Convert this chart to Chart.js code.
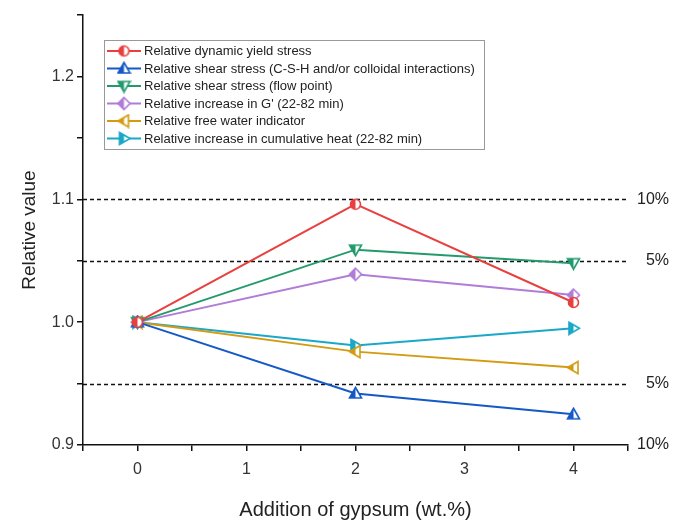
<!DOCTYPE html>
<html>
<head>
<meta charset="utf-8">
<script src="https://cdn.jsdelivr.net/npm/chart.js@4"></script>
<style>
  body { margin: 0; background: #fff; }
  #wrap { width: 678px; height: 530px; }
</style>
</head>
<body>
<div id="wrap"><canvas id="myChart" width="678" height="530"></canvas></div>
<script>
// gypsum addition (wt.%)
const gypsum = [0, 2, 4];

const seriesNames = [
    'Relative dynamic yield stress',
    'Relative shear stress (C-S-H and/or colloidal interactions)',
    'Relative shear stress (flow point)',
    "Relative increase in G' (22-82 min)",
    'Relative free water indicator',
    'Relative increase in cumulative heat (22-82 min)'
];
const dynYield   = [1.000, 1.096, 1.016];
const shearCSH   = [1.000, 0.942, 0.925];
const shearFlow  = [1.000, 1.059, 1.048];
const gPrime     = [1.000, 1.039, 1.022];
const freeWater  = [1.000, 0.976, 0.963];
const cumHeat    = [1.000, 0.981, 0.995];

// dashed deviation lines and their labels on the right
const refLines = [1.1, 1.05, 0.95];
const marginValues = [1.1, 1.05, 0.95, 0.9];
const marginLabels = ['10%', '5%', '5%', '10%'];

const colors = ['#e8403f', '#1559c7', '#229a6c', '#b07cd8', '#d49b12', '#1aa8c8'];
const shapes = ['circle', 'up', 'down', 'diamond', 'left', 'right'];
const values = [dynYield, shearCSH, shearFlow, gPrime, freeWater, cumHeat];

// half filled marker drawn on a small canvas
function makeMarker(shape, color) {
    const s = 15, m = s / 2, r = 5;
    const c = document.createElement('canvas');
    c.width = s; c.height = s;
    const g = c.getContext('2d');
    g.beginPath();
    if (shape === 'circle') {
        g.arc(m, m, r, 0, Math.PI * 2);
    } else if (shape === 'up') {
        g.moveTo(m, m - r - 1); g.lineTo(m + r + 1, m + r - 0.5); g.lineTo(m - r - 1, m + r - 0.5); g.closePath();
    } else if (shape === 'down') {
        g.moveTo(m, m + r + 1); g.lineTo(m + r + 1, m - r + 0.5); g.lineTo(m - r - 1, m - r + 0.5); g.closePath();
    } else if (shape === 'diamond') {
        g.moveTo(m, m - r - 1); g.lineTo(m + r + 1, m); g.lineTo(m, m + r + 1); g.lineTo(m - r - 1, m); g.closePath();
    } else if (shape === 'left') {
        g.moveTo(m - r - 1, m); g.lineTo(m + r - 0.5, m - r - 1); g.lineTo(m + r - 0.5, m + r + 1); g.closePath();
    } else {
        g.moveTo(m + r + 1, m); g.lineTo(m - r + 0.5, m - r - 1); g.lineTo(m - r + 0.5, m + r + 1); g.closePath();
    }
    g.fillStyle = '#fff';
    g.fill();
    g.save();
    g.clip();
    g.fillStyle = color;
    g.fillRect(0, 0, m, s);
    g.restore();
    g.lineWidth = 1.6;
    g.strokeStyle = color;
    g.stroke();
    return c;
}

const markers = shapes.map((sh, i) => makeMarker(sh, colors[i]));

const datasets = values.map((vals, i) => ({
    label: seriesNames[i],
    data: gypsum.map((x, j) => ({ x: x, y: vals[j] })),
    borderColor: colors[i],
    backgroundColor: colors[i],
    borderWidth: 2,
    tension: 0,
    fill: false,
    pointStyle: markers[i],
    pointRadius: 6
}));

const refLinePlugin = {
    id: 'refLines',
    beforeDatasetsDraw(chart) {
        const ctx = chart.ctx, area = chart.chartArea, y = chart.scales.y;
        ctx.save();
        ctx.strokeStyle = '#111';
        ctx.lineWidth = 1.6;
        ctx.setLineDash([4, 3]);
        refLines.forEach(v => {
            const py = Math.round(y.getPixelForValue(v)) + 0.5;
            ctx.beginPath();
            ctx.moveTo(area.left, py);
            ctx.lineTo(area.right, py);
            ctx.stroke();
        });
        ctx.setLineDash([]);
        ctx.fillStyle = '#222';
        ctx.font = '16px "Liberation Sans", Arial, sans-serif';
        ctx.textAlign = 'right';
        ctx.textBaseline = 'middle';
        marginValues.forEach((v, i) => {
            ctx.fillText(marginLabels[i], 669, y.getPixelForValue(v));
        });
        ctx.restore();
    }
};

const legendPlugin = {
    id: 'boxLegend',
    afterDatasetsDraw(chart) {
        const ctx = chart.ctx;
        const bx = 104, by = 40, bw = 380, bh = 109;
        ctx.save();
        ctx.fillStyle = '#fff';
        ctx.fillRect(bx, by, bw, bh);
        ctx.strokeStyle = '#999';
        ctx.lineWidth = 1;
        ctx.strokeRect(bx + 0.5, by + 0.5, bw, bh);
        ctx.font = '13px "Liberation Sans", Arial, sans-serif';
        ctx.textBaseline = 'middle';
        ctx.textAlign = 'left';
        seriesNames.forEach((name, i) => {
            const ry = by + 11 + i * 17.5;
            ctx.strokeStyle = colors[i];
            ctx.lineWidth = 2;
            ctx.beginPath();
            ctx.moveTo(bx + 3, ry);
            ctx.lineTo(bx + 37, ry);
            ctx.stroke();
            const mk = markers[i];
            ctx.drawImage(mk, bx + 20 - mk.width / 2, ry - mk.height / 2);
            ctx.fillStyle = '#222';
            ctx.fillText(name, bx + 40, ry + 0.5);
        });
        ctx.restore();
    }
};

const axisFont = { family: '"Liberation Sans", Arial, sans-serif', size: 16 };
const titleFont = { family: '"Liberation Sans", Arial, sans-serif', size: 20 };

let myChart = document.getElementById('myChart').getContext('2d');
let lineChart = new Chart(myChart, {
    type: 'line',
    data: { datasets: datasets },
    plugins: [refLinePlugin, legendPlugin],
    options: {
        responsive: false,
        animation: false,
        layout: { padding: { left: 0, right: 50, top: 15, bottom: 0 } },
        plugins: {
            legend: { display: false },
            tooltip: { enabled: false }
        },
        scales: {
            x: {
                type: 'linear',
                min: -0.5,
                max: 4.5,
                afterBuildTicks: (scale) => {
                    const t = [];
                    for (let k = -1; k <= 9; k++) t.push({ value: k / 2 });
                    scale.ticks = t;
                },
                afterFit: (scale) => { scale.height = 85; },
                ticks: {
                    autoSkip: false,
                    maxRotation: 0,
                    padding: 9,
                    color: '#333',
                    font: axisFont,
                    callback: (v) => (Number.isInteger(v) && v >= 0 ? String(v) : '')
                },
                grid: { drawOnChartArea: false, drawTicks: true, tickLength: 6, color: '#111', lineWidth: 1.5 },
                border: { color: '#111', width: 1.5 },
                title: { display: true, text: 'Addition of gypsum (wt.%)', color: '#222', font: titleFont, padding: { top: 0, bottom: 8 } }
            },
            y: {
                type: 'linear',
                min: 0.9,
                max: 1.25,
                afterBuildTicks: (scale) => {
                    const t = [];
                    for (let k = 18; k <= 25; k++) t.push({ value: k / 20 });
                    scale.ticks = t;
                },
                afterFit: (scale) => { scale.width = 83; },
                ticks: {
                    autoSkip: false,
                    padding: 3,
                    color: '#333',
                    font: axisFont,
                    callback: (v) => {
                        const n = Math.round(v * 100);
                        return n % 10 === 0 ? (n / 100).toFixed(1) : '';
                    }
                },
                grid: { drawOnChartArea: false, drawTicks: true, tickLength: 6, color: '#111', lineWidth: 1.5 },
                border: { color: '#111', width: 1.5 },
                title: { display: true, text: 'Relative value', color: '#222', font: { family: '"Liberation Sans", Arial, sans-serif', size: 19 }, padding: { top: 18, bottom: 0 } }
            }
        }
    }
});
</script>
</body>
</html>
